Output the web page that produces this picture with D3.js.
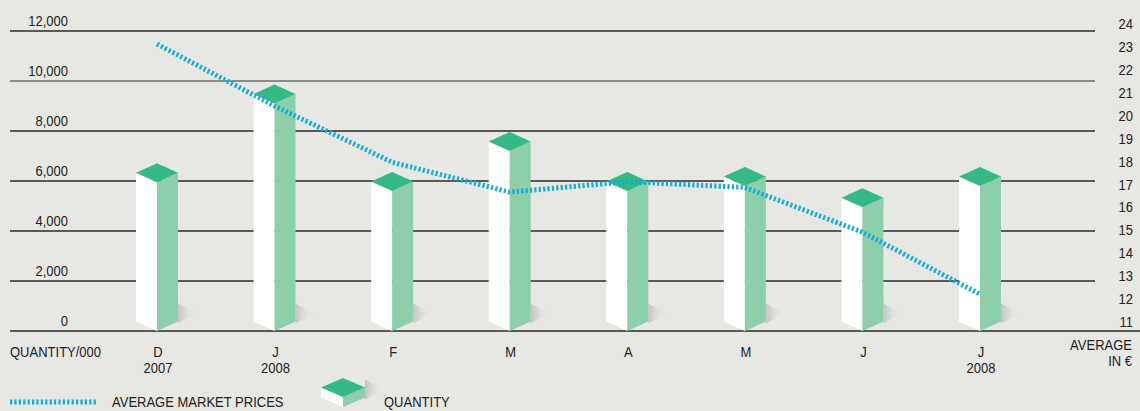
<!DOCTYPE html>
<html><head><meta charset="utf-8">
<script src="https://cdn.jsdelivr.net/npm/d3@7"></script>
<style>
html,body{margin:0;padding:0;background:#e7e7e3;}
svg{display:block;}
text{font-family:"Liberation Sans",Arial,sans-serif;fill:#222;}
</style></head>
<body>
<svg id="c" width="1140" height="411"></svg>
<script>
const months = ["D","J","F","M","A","M","J","J"];
const years  = ["2007","2008","","","","","","2008"];
const quantity = [5950, 9100, 5600, 7200, 5600, 5800, 4950, 5800];
const price = [23.1, 20.4, 17.95, 16.65, 17.1, 16.85, 14.9, 12.2];
const leftTicks = [0,2000,4000,6000,8000,10000,12000];
const rightTicks = [11,12,13,14,15,16,17,18,19,20,21,22,23,24];

const svg = d3.select("#c");
const W = 1140, H = 411;
const FS = 15.5, SX = 0.84;
svg.append("rect").attr("width",W).attr("height",H).attr("fill","#e7e7e3");

const x = d3.scalePoint().domain(d3.range(months.length)).range([157,980]);
const y = d3.scaleLinear().domain([0,12000]).range([331,31]);
const y2 = d3.scaleLinear().domain([11,24]).range([321.7,23.4]);

const defs = svg.append("defs");
const g = defs.append("linearGradient").attr("id","sh").attr("x1","0").attr("x2","1").attr("y1","0").attr("y2","0");
g.append("stop").attr("offset","0").attr("stop-color","#c4c4c4");
g.append("stop").attr("offset","1").attr("stop-color","#e7e7e3").attr("stop-opacity","0");

function txt(sel, tx, ty, s, anchor){
  return sel.append("text").attr("transform",`translate(${tx},${ty}) scale(${SX},1)`)
    .attr("text-anchor",anchor||"start").attr("font-size",FS).text(s);
}

// gridlines
const grid = svg.append("g");
leftTicks.forEach(t=>{
  grid.append("line").attr("x1",10).attr("x2", t===0?1140:1095)
    .attr("y1",y(t)).attr("y2",y(t))
    .attr("stroke", t===10000?"#8a8a8a":"#2a2a2a")
    .attr("stroke-width", t===10000?2:1.3);
});

// left axis labels
const fmt = d3.format(",");
const la = svg.append("g");
leftTicks.forEach(t=>txt(la, 68, y(t)-5, fmt(t), "end"));

// right axis labels
const ra = svg.append("g");
rightTicks.forEach(t=>txt(ra, 1133, y2(t)+5.5, t, "end"));

const poly = pts => pts.map(p=>p.join(",")).join(" ");
function prism(sel, cx, yTop, yBot, w, d, shadow){
  if(shadow){
    sel.append("polygon").attr("points",poly([[cx+w,yBot-d-18],[cx+w+19,yBot-d-8],[cx+w,yBot-d+2]])).attr("fill","url(#sh)");
  }
  sel.append("polygon").attr("points",poly([[cx-w,yTop-d],[cx,yTop],[cx,yBot],[cx-w,yBot-d]])).attr("fill","#ffffff");
  sel.append("polygon").attr("points",poly([[cx,yTop],[cx+w,yTop-d],[cx+w,yBot-d],[cx,yBot]])).attr("fill","#8ecfab");
  sel.append("polygon").attr("points",poly([[cx-w,yTop-d],[cx,yTop-2*d],[cx+w,yTop-d],[cx,yTop]])).attr("fill","#35b985");
}

const bars = svg.append("g");
quantity.forEach((v,i)=>{
  prism(bars.append("g"), x(i), y(v), y(0), 21, 9.5, true);
});

// price line
const line = d3.line().x((d,i)=>x(i)).y(d=>y2(d)).curve(d3.curveLinear);
svg.append("path").datum(price).attr("d",line).attr("fill","none")
  .attr("stroke","#12acd6").attr("stroke-width",5).attr("stroke-dasharray","2.2,2.2");

// category labels
const lab = svg.append("g");
months.forEach((m,i)=>{
  txt(lab, x(i)+1, 357, m, "middle");
  if(years[i]) txt(lab, x(i)+1, 373, years[i], "middle");
});
txt(svg, 10, 357, "QUANTITY/000");
txt(svg, 1132, 350, "AVERAGE", "end");
txt(svg, 1132, 366, "IN €", "end");

// legend
svg.append("line").attr("x1",10).attr("x2",97).attr("y1",402).attr("y2",402)
  .attr("stroke","#12acd6").attr("stroke-width",5).attr("stroke-dasharray","2.2,2.2");
txt(svg, 112, 407, "AVERAGE MARKET PRICES");
prism(svg.append("g"), 343, 397, 407, 22, 9.5, true);
txt(svg, 384, 407, "QUANTITY");
</script>
</body></html>
